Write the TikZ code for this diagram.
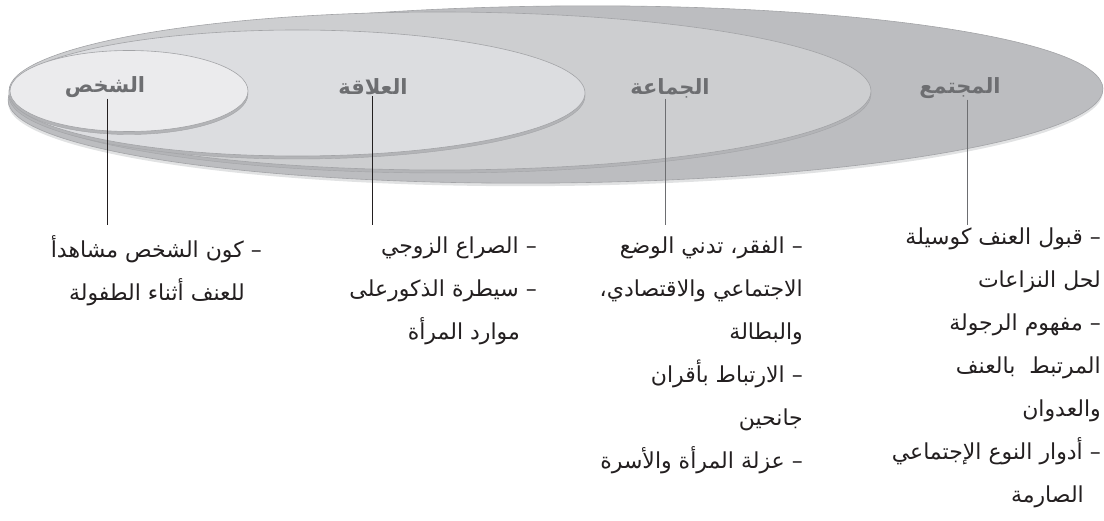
\documentclass[tikz,border=0pt]{standalone}
\usepackage{fontspec}
\newfontfamily\arabicfont[Script=Arabic]{DejaVu Sans}
\TeXXeTstate=1
\usetikzlibrary{positioning}

\definecolor{ringOuter}{HTML}{BCBDC0}
\definecolor{ringGroup}{HTML}{CDCED0}
\definecolor{ringPair}{HTML}{DCDDE0}
\definecolor{ringSelf}{HTML}{EBEBED}
\definecolor{ringEdge}{HTML}{A3A4A7}
\definecolor{ringShade}{HTML}{B3B4B7}
\definecolor{labelGray}{HTML}{6D6E71}
\definecolor{textBlack}{HTML}{231F20}

\tikzset{
  ring/.style={draw=ringEdge, line width=0.6pt},
  ringshade/.style={fill=ringShade, draw=ringEdge, line width=0.4pt, yshift=-3pt},
  ringlabel/.style={font=\arabicfont\bfseries\fontsize{21}{21}\selectfont,
    text=labelGray, inner sep=1pt},
  factors/.style={font=\arabicfont\fontsize{22}{43}\selectfont,
    text=textBlack, align=right, anchor=north east, inner sep=0pt},
  leader/.style={line width=1pt}
}

\newcommand{\hang}{\hspace*{17pt}}

\begin{document}
\begin{tikzpicture}[x=1pt,y=-1pt]
  \useasboundingbox (0,0) rectangle (1104,521);

  % Rings, outer first
  \fill[ringshade, fill=ringGroup!60, draw=none, rotate around={0.6:(555.5,94.5)}]
    (555.5,94.5) ellipse [x radius=547.5pt, y radius=88.5pt];
  \filldraw[ring, fill=ringOuter, rotate around={0.6:(555.5,94.5)}]
    (555.5,94.5) ellipse [x radius=547.5pt, y radius=88.5pt];

  \filldraw[ringshade] (440,91) ellipse [x radius=431pt, y radius=79pt];
  \filldraw[ring, fill=ringGroup] (440,91) ellipse [x radius=431pt, y radius=79pt];

  \filldraw[ringshade] (297,93) ellipse [x radius=288pt, y radius=63pt];
  \filldraw[ring, fill=ringPair] (297,93) ellipse [x radius=288pt, y radius=63pt];

  \filldraw[ringshade] (129,91) ellipse [x radius=119pt, y radius=40.5pt];
  \filldraw[ring, fill=ringSelf] (129,91) ellipse [x radius=119pt, y radius=40.5pt];

  % Ring names
  \node[ringlabel] (shakhs) at (105,87) {\beginR الشخص\endR};
  \node[ringlabel] (alaqa) at (373,87) {\beginR العلاقة\endR};
  \node[ringlabel] (jamaa) at (670,88) {\beginR الجماعة\endR};
  \node[ringlabel] (mujtama) at (960,88) {\beginR المجتمع\endR};

  % Leader ends
  \coordinate (shakhsEnd) at (107,225);
  \coordinate (alaqaEnd) at (372,225);
  \coordinate (jamaaEnd) at (665,225);
  \coordinate (mujtamaEnd) at (967,225);

  \draw[leader, textBlack] (shakhs.south -| shakhsEnd) -- (shakhsEnd);
  \draw[leader, textBlack] (alaqa.south -| alaqaEnd) -- (alaqaEnd);
  \draw[leader, labelGray] (jamaa.south -| jamaaEnd) -- (jamaaEnd);
  \draw[leader, labelGray] (mujtama.south -| mujtamaEnd) -- (mujtamaEnd);

  % Factor lists
  \node[factors] (shakhsList) at (262,235)
    {\beginR – كون الشخص مشاهدأ\endR\\
     \beginR للعنف أثناء الطفولة\endR\hang};

  \node[factors] (alaqaList) at (537,237)
    {\beginR – الصراع الزوجي\endR\\
     \beginR – سيطرة الذكورعلى\endR\\
     \beginR موارد المرأة\endR\hang};

  \node[factors] (jamaaList) at (803,237)
    {\beginR – الفقر، تدني الوضع\endR\\
     \beginR الاجتماعي والاقتصادي،\endR\\
     \beginR والبطالة\endR\\
     \beginR – الارتباط بأقران\endR\\
     \beginR جانحين\endR\hang\\
     \beginR – عزلة المرأة والأسرة\endR};

  \node[factors] (mujtamaList) at (1101,228)
    {\beginR – قبول العنف كوسيلة\endR\\
     \beginR لحل النزاعات\endR\hang\\
     \beginR – مفهوم الرجولة\endR\\
     \beginR المرتبط~ بالعنف\endR\hang\\
     \beginR والعدوان\endR\hang\\
     \beginR – أدوار النوع الإجتماعي\endR\\
     \beginR الصارمة\endR\hang};
\end{tikzpicture}
\end{document}
